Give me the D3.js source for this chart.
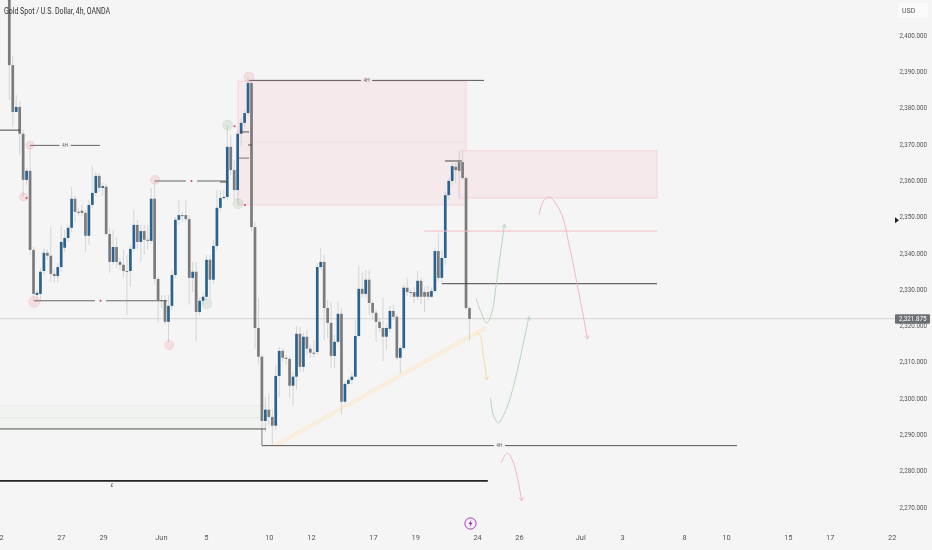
<!DOCTYPE html>
<html><head><meta charset="utf-8">
<script src="https://cdn.jsdelivr.net/npm/d3@7/dist/d3.min.js"></script>
<style>html,body{margin:0;padding:0;background:#f5f5f5;overflow:hidden}svg{display:block;filter:blur(0.35px)}</style>
</head><body><svg id="c" width="932" height="550"></svg>
<script>
const opens=[2411.0,2391.7,2378.8,2380.2,2372.8,2360.1,2362.6,2340.8,2328.4,2328.7,
2335.0,2340.0,2339.2,2334.2,2333.6,2336.1,2341.4,2344.1,2346.9,2354.9,
2351.3,2351.6,2351.0,2344.7,2353.2,2356.5,2361.2,2357.9,2358.2,2345.2,
2337.5,2341.6,2337.5,2336.7,2335.0,2335.0,2341.1,2347.7,2343.0,2346.0,
2343.6,2343.3,2354.9,2332.8,2327.0,2327.0,2321.0,2325.4,2333.9,2349.1,
2350.4,2350.4,2349.3,2333.1,2334.8,2323.7,2326.8,2327.9,2338.1,2332.6,
2341.9,2352.4,2355.1,2355.4,2369.2,2362.8,2357.3,2372.8,2375.8,2378.5,
2386.8,2347.1,2319.3,2311.4,2293.7,2296.8,2294.8,2292.4,2306.1,2313.0,
2311.1,2310.8,2303.4,2305.9,2317.7,2308.6,2316.9,2313.6,2312.5,2312.7,
2336.1,2337.5,2324.8,2320.7,2311.6,2315.5,2323.2,2299.0,2303.9,2305.0,
2305.9,2317.1,2330.1,2328.7,2332.6,2326.2,2323.5,2321.0,2319.3,2316.9,
2319.1,2324.0,2322.4,2311.1,2313.8,2330.4,2329.2,2329.2,2327.9,2332.3,
2329.2,2329.2,2327.9,2329.5,2340.5,2333.1,2338.6,2355.9,2359.8,2363.7,
2365.0,2365.0,2360.6,2324.8];
const closes=[2391.7,2378.8,2380.2,2372.8,2360.1,2362.6,2340.8,2328.7,2329.0,2334.8,
2340.0,2339.2,2334.2,2333.6,2336.1,2343.0,2344.1,2346.9,2354.9,2351.3,
2351.0,2351.0,2344.7,2353.2,2356.5,2361.2,2357.9,2358.4,2345.2,2337.5,
2341.6,2337.5,2336.7,2335.0,2334.8,2341.1,2347.7,2343.0,2346.0,2343.6,
2343.3,2354.9,2332.8,2327.0,2326.8,2321.0,2325.4,2333.9,2349.1,2350.4,
2350.2,2349.3,2333.1,2334.8,2323.7,2326.8,2327.9,2338.1,2332.6,2341.9,
2352.4,2355.1,2355.4,2369.2,2362.8,2357.3,2372.8,2375.8,2378.5,2386.8,
2347.1,2319.3,2311.4,2293.7,2296.8,2294.8,2292.4,2306.1,2313.0,2311.1,
2310.8,2303.4,2305.9,2317.7,2308.6,2316.9,2313.6,2312.5,2312.2,2336.1,
2337.5,2324.8,2320.7,2311.6,2315.5,2323.2,2299.0,2303.9,2305.0,2305.9,
2317.1,2330.1,2328.7,2332.6,2326.2,2323.5,2321.0,2319.3,2316.9,2319.3,
2324.0,2322.4,2311.1,2313.8,2330.4,2329.2,2329.0,2327.9,2332.3,2327.9,
2327.9,2327.9,2329.5,2340.5,2333.1,2338.6,2355.9,2359.8,2363.9,2362.8,
2362.6,2360.6,2324.8,2321.8];
const highs=[2415.1,2394.2,2383.5,2381.6,2373.8,2363.4,2369.7,2341.6,2329.8,2335.9,
2341.1,2340.8,2347.1,2335.3,2337.2,2347.4,2346.3,2347.7,2358.2,2355.7,
2352.4,2353.2,2351.8,2354.6,2363.9,2362.3,2362.0,2359.3,2359.0,2346.9,
2346.3,2344.4,2338.6,2340.8,2339.4,2342.2,2351.8,2349.1,2347.7,2347.7,
2347.7,2357.9,2360.1,2333.4,2328.4,2328.4,2328.4,2335.3,2349.9,2354.6,
2351.3,2354.6,2350.4,2337.5,2337.5,2327.6,2329.2,2339.4,2339.4,2343.6,
2357.3,2357.3,2357.3,2375.2,2372.5,2365.6,2373.8,2377.1,2379.3,2388.4,
2387.1,2348.5,2327.6,2311.9,2300.3,2301.2,2296.8,2308.9,2314.1,2313.6,
2311.9,2311.4,2307.2,2319.9,2319.6,2318.0,2318.8,2314.7,2316.0,2337.2,
2341.4,2339.4,2327.0,2326.5,2317.4,2326.8,2324.8,2304.5,2305.6,2307.2,
2321.5,2336.4,2334.8,2335.3,2335.3,2327.0,2324.3,2322.1,2327.6,2320.2,
2325.4,2325.7,2323.2,2314.4,2331.2,2333.1,2330.1,2330.6,2335.0,2333.1,
2330.6,2330.9,2330.4,2341.4,2345.5,2340.8,2356.8,2360.6,2364.8,2364.8,
2367.8,2368.3,2361.2,2325.4];
const lows=[2382.1,2374.9,2378.8,2367.0,2355.4,2358.7,2339.4,2327.0,2326.5,2326.5,
2333.9,2338.1,2332.0,2331.7,2331.7,2334.8,2340.3,2343.0,2345.8,2348.5,
2350.2,2350.2,2340.3,2342.2,2352.4,2355.7,2356.8,2355.7,2344.7,2334.5,
2336.7,2335.9,2335.3,2333.1,2322.9,2330.6,2340.3,2340.8,2337.5,2339.4,
2340.8,2342.5,2331.2,2320.7,2324.8,2320.2,2315.5,2324.3,2333.1,2347.7,
2348.5,2348.5,2325.7,2329.2,2315.5,2322.9,2325.7,2327.0,2327.0,2331.5,
2340.8,2351.3,2354.6,2354.6,2361.5,2354.6,2353.5,2369.2,2374.7,2377.7,
2345.8,2313.6,2309.2,2287.1,2290.7,2292.6,2287.1,2291.3,2300.3,2310.0,
2309.2,2300.0,2297.9,2302.3,2307.2,2307.2,2311.9,2311.1,2311.1,2311.9,
2335.3,2316.0,2316.6,2308.3,2308.3,2314.7,2295.4,2298.4,2303.4,2303.9,
2305.6,2316.6,2327.6,2327.6,2322.9,2321.5,2315.5,2318.2,2310.2,2313.3,
2318.2,2321.5,2310.5,2306.7,2313.3,2328.1,2327.6,2326.2,2327.0,2325.9,
2323.7,2327.0,2327.6,2329.0,2332.3,2332.0,2336.7,2354.6,2358.7,2359.2,
2355.1,2360.1,2324.3,2315.8];

const priceTicks=[2400,2390,2380,2370,2360,2350,2340,2330,2320,2310,2300,2290,2280,2270];
const timeBars=[-3,14.9,27.1,43.8,56.8,75,87.2,105.1,117.3,135.2,147.3,165,177.1,195,207.1,225,237.1,255];
const timeLabels=["22","27","29","Jun","5","10","12","17","19","24","26","Jul","3","8","10","15","17","22"];
const lastPrice=2321.875;
const markerPrice=2349.0;

// zones: [bar start, bar end, price top, price bottom, kind]
const zones=[[66.1,132,2387.3,2353.2,"red"],[130.2,187.2,2368.1,2355.1,"red"],[-3,74.2,2297.9,2291.5,"green"]];
// thin inner levels of the zones
const zoneMid=[[66.1,132,2370.5,"#f1dcdf"],[-3,74.2,2294.6,"#e3eae3"]];
// levels: [bar start, bar end, price, colour, width, label]
const levels=[
[69.3,137.2,2387.5,"#444",0.9,"4H"],
[-3,3.1,2373.8,"#333",0.9,""],
[6,26.2,2369.6,"#555",0.9,"4H"],
[42.1,63.2,2359.8,"#666",1.1,"*"],
[7.1,45.6,2326.8,"#666",1.1,"*"],
[73,210.3,2286.9,"#444",0.9,"4H"],
[-3,74.2,2291.5,"#555",1,""],
[-3,138.3,2277.2,"#222",1.7,""],
[125,187.2,2331.5,"#444",1,""],
[119.9,187.2,2346.0,"#f2bcc3",1,""],
[125.9,130.8,2365.3,"#444",1,""],
[60.9,63.2,2359.5,"#444",0.9,""],
[66.7,69.3,2373.3,"#444",0.9,""],
[66.4,69.3,2366.1,"#666",0.9,""],
[69,70.1,2369.7,"#444",0.9,""]];
// bar, price, radius, kind
const circles=[[6,2369.7,4,"r"],[4.1,2355.4,4,"r"],[7.2,2326.5,5.5,"r"],[42.1,2360.1,4.5,"r"],[46.2,2314.6,4.5,"r"],[69.3,2388.4,5,"r"],[63.1,2375.2,5,"g"],[66.1,2353.5,5,"g"],[57.1,2325.9,5,"g"]];
const redDots=[[5,2355.1],[65.1,2374.9],[68.1,2353.2]];
const trendBar=[76.8,137.5];
const trendPrice=[2286.9,2319.3];
const boxEdge=[[73,2291.5],[73,2286.9]];
const curves=[
{c:"#b2d0b6",p:[[134.9,2327.6],[136.3,2323.7],[138,2320.7],[139.5,2323.7],[140.9,2332.6],[143.1,2347.9]]},
{c:"#b2d0b6",p:[[139.1,2300.1],[139.8,2295.6],[141.3,2293.2],[143,2295.6],[145.2,2301.4],[150.2,2322.4]]},
{c:"#f5d79a",p:[[134.9,2318],[136,2317.4],[136.9,2312.5],[138,2305]]},
{c:"#f2b0b9",p:[[153.1,2350.4],[154.2,2354],[155.9,2355.4],[159.1,2351.8],[162.1,2340.8],[167.1,2316.3]]},
{c:"#f2b0b9",p:[[142.2,2282.2],[143.9,2284.9],[145.7,2282.2],[148.1,2271.7]]}];

const svg=d3.select("#c");
const W=932,H=550;
const x=d3.scaleLinear().domain([0,133]).range([9.3,469.5]);
const y=d3.scaleLinear().domain([2400,2270]).range([35,507]);
const font="Roboto, 'Liberation Sans', sans-serif";
const bw=2.7;
const priceFmt=d3.format(",.3f");

svg.append("rect").attr("width",W).attr("height",H).attr("fill","#f5f5f5");
const defs=svg.append("defs");
curves.forEach((d,i)=>{
  defs.append("marker").attr("id","m"+i).attr("viewBox","-5 -4 6 8").attr("refX",0).attr("refY",0)
   .attr("markerWidth",7).attr("markerHeight",7).attr("markerUnits","userSpaceOnUse").attr("orient","auto")
   .append("path").attr("d","M-4,-2.6L0,0L-4,2.6").attr("fill","none").attr("stroke",d.c).attr("stroke-width",0.9);
});

// zones
svg.append("g").selectAll("rect").data(zones).join("rect")
 .attr("x",d=>x(d[0])).attr("width",d=>x(d[1])-x(d[0]))
 .attr("y",d=>y(d[2])).attr("height",d=>y(d[3])-y(d[2]))
 .attr("fill",d=>d[4]==="red"?"#f6e9eb":"#f0f3f0")
 .attr("stroke",d=>d[4]==="red"?"#f3cdd2":"#e6ebe5").attr("stroke-width",0.8);
svg.append("g").selectAll("line").data(zoneMid).join("line")
 .attr("x1",d=>x(d[0])).attr("x2",d=>x(d[1])).attr("y1",d=>y(d[2])).attr("y2",d=>y(d[2]))
 .attr("stroke",d=>d[3]).attr("stroke-width",0.7);

// last price line
svg.append("line").attr("x1",0).attr("x2",895).attr("y1",y(lastPrice)).attr("y2",y(lastPrice)).attr("stroke","#d6d6d6").attr("stroke-width",1);

// trend band
svg.append("line").attr("x1",x(trendBar[0])).attr("x2",x(trendBar[1])).attr("y1",y(trendPrice[0])).attr("y2",y(trendPrice[1]))
 .attr("stroke","#f9eddc").attr("stroke-width",4.5);

// candles
const bars=d3.range(opens.length);
const cg=svg.append("g");
cg.selectAll("line").data(bars).join("line")
 .attr("x1",i=>x(i)).attr("x2",i=>x(i)).attr("y1",i=>y(highs[i])).attr("y2",i=>y(lows[i]))
 .attr("stroke","#cfd1d3").attr("stroke-width",0.9);
cg.selectAll("rect").data(bars).join("rect")
 .attr("x",i=>x(i)-bw/2).attr("width",bw)
 .attr("y",i=>y(Math.max(opens[i],closes[i])))
 .attr("height",i=>Math.max(1,Math.abs(y(opens[i])-y(closes[i]))))
 .attr("fill",i=>closes[i]>=opens[i]?"#2a6390":"#7b7b7d");

// box edge
svg.append("line").attr("x1",x(boxEdge[0][0])).attr("x2",x(boxEdge[1][0])).attr("y1",y(boxEdge[0][1])).attr("y2",y(boxEdge[1][1])).attr("stroke","#777").attr("stroke-width",0.8);

// levels
const lg=svg.append("g").selectAll("g").data(levels).join("g");
lg.append("line").attr("x1",d=>x(d[0])).attr("x2",d=>x(d[1])).attr("y1",d=>y(d[2])).attr("y2",d=>y(d[2]))
 .attr("stroke",d=>d[3]).attr("stroke-width",d=>d[4]);
const labelled=lg.filter(d=>d[5]);
labelled.append("rect").attr("x",d=>(x(d[0])+x(d[1]))/2-5.5).attr("width",11).attr("y",d=>y(d[2])-3).attr("height",6).attr("fill",d=>d[5]==="4H"&&d[0]===69.3?"#f6e9eb":"#f5f5f5");
labelled.filter(d=>d[5]==="4H").append("text").attr("x",d=>(x(d[0])+x(d[1]))/2).attr("y",d=>y(d[2])+1.7).attr("text-anchor","middle")
 .attr("font-family",font).attr("font-size",4.8).attr("fill","#666").text(d=>d[5]);
labelled.filter(d=>d[5]==="*").append("circle").attr("cx",d=>(x(d[0])+x(d[1]))/2).attr("cy",d=>y(d[2])).attr("r",1).attr("fill","#e0414f");

svg.append("text").attr("x",x(trendBar[0])-163).attr("y",y(2275.6)).attr("text-anchor","middle").attr("font-family",font).attr("font-size",5).attr("fill","#555").text("£");

// circles
svg.append("g").selectAll("circle").data(circles).join("circle")
 .attr("cx",d=>x(d[0])).attr("cy",d=>y(d[1])).attr("r",d=>d[2])
 .attr("fill",d=>d[3]==="r"?"rgba(242,120,135,.18)":"rgba(120,170,130,.16)")
 .attr("stroke",d=>d[3]==="r"?"rgba(230,110,125,.25)":"rgba(120,170,130,.25)").attr("stroke-width",0.6);
svg.append("g").selectAll("circle").data(redDots).join("circle")
 .attr("cx",d=>x(d[0])).attr("cy",d=>y(d[1])).attr("r",1).attr("fill","#e0414f");

// curves
const lineGen=d3.line().x(d=>x(d[0])).y(d=>y(d[1])).curve(d3.curveCatmullRom.alpha(0.5));
svg.append("g").selectAll("path").data(curves).join("path")
 .attr("d",d=>lineGen(d.p)).attr("fill","none").attr("stroke",d=>d.c).attr("stroke-width",0.9)
 .attr("marker-end",(d,i)=>`url(#m${i})`);

// price axis
const ay=d3.axisRight(y).tickValues(priceTicks).tickSize(0).tickPadding(0).tickFormat(priceFmt);
const gy=svg.append("g").attr("transform","translate(899.5,0)").call(ay);
gy.select(".domain").remove();
gy.selectAll("text").attr("font-family",font).attr("font-size",6.9).attr("fill","#555")
 .attr("textLength",27.5).attr("lengthAdjust","spacingAndGlyphs");

// time axis
const ax=d3.axisBottom(x).tickValues(timeBars).tickSize(0).tickPadding(0).tickFormat((d,i)=>timeLabels[i]);
const gx=svg.append("g").attr("transform","translate(0,535)").call(ax);
gx.select(".domain").remove();
gx.selectAll("text").attr("font-family",font).attr("font-size",7.4).attr("fill","#555");

// USD box
svg.append("rect").attr("x",898).attr("y",3).attr("width",30).attr("height",15).attr("fill","#fbfbfb");
svg.append("text").attr("x",902).attr("y",13.3).attr("font-family",font).attr("font-size",7).attr("fill","#555").text("USD");

// price badge
svg.append("rect").attr("x",895).attr("y",y(lastPrice)-4.5).attr("width",35).attr("height",9.5).attr("fill","#6c7076").attr("rx",1);
svg.append("text").attr("x",899).attr("y",y(lastPrice)+2.5).attr("font-family",font).attr("font-size",6.9).attr("fill","#fff")
 .attr("textLength",27.5).attr("lengthAdjust","spacingAndGlyphs").text(priceFmt(lastPrice));

// small price-scale marker
svg.append("path").attr("transform",`translate(895,${y(markerPrice)})`).attr("d","M0,-3L4,0L0,3Z").attr("fill","#222");

// title
svg.append("text").attr("x",4).attr("y",13.5).attr("font-family",font).attr("font-size",8.4).attr("fill","#333")
 .attr("textLength",106).attr("lengthAdjust","spacingAndGlyphs").text("Gold Spot / U.S. Dollar, 4h, OANDA");

// lightning badge
const lb=svg.append("g").attr("transform","translate(470.5,523.5)");
lb.append("circle").attr("r",5.6).attr("fill","#f6f1f8").attr("stroke","#9c27b0").attr("stroke-width",0.9);
lb.append("path").attr("d","M0.8,-3.4L-2,0.6H-0.2L-0.8,3.4L2,-0.7H0.2Z").attr("fill","#9c27b0");
</script></body></html>
